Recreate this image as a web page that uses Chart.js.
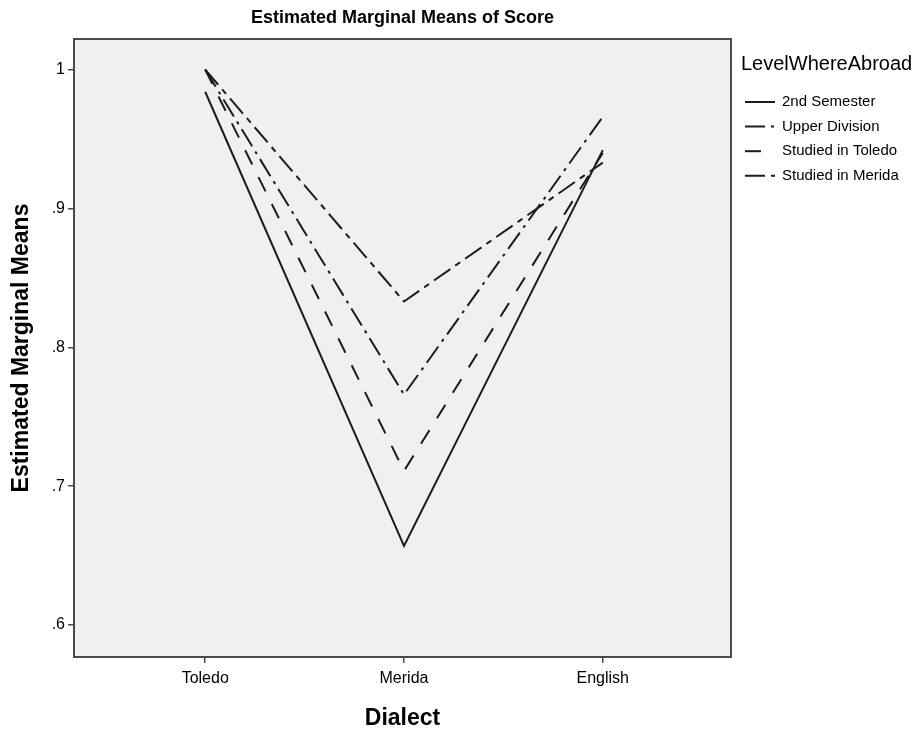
<!DOCTYPE html>
<html>
<head>
<meta charset="utf-8">
<title>Estimated Marginal Means of Score</title>
<script src="https://cdn.jsdelivr.net/npm/chart.js@4.4.1/dist/chart.umd.min.js"></script>
<style>
  html, body { margin: 0; padding: 0; background: #fff; }
  #wrap { width: 917px; height: 732px; }
</style>
</head>
<body>
<div id="wrap"><canvas id="emm-chart" width="917" height="732"></canvas></div>
<script>
const DIALECTS = ['Toledo', 'Merida', 'English'];
const Y_TICKS = [0.6, 0.7, 0.8, 0.9, 1.0];

const SECOND_SEMESTER = [0.984, 0.657, 0.942];
const UPPER_DIVISION = [1.0, 0.766, 0.966];
const STUDIED_TOLEDO = [1.0, 0.711, 0.940];
const STUDIED_MERIDA = [1.0, 0.833, 0.933];

const LINE_COLOR = '#1c1c1c';
const FONT = '"Liberation Sans", Arial, sans-serif';

const toPoints = (values) => values.map((v, i) => ({ x: i, y: v }));

const makeSeries = (label, values, dash) => ({
  label,
  data: toPoints(values),
  borderColor: LINE_COLOR,
  borderWidth: 2,
  borderDash: dash,
  pointRadius: 0,
  tension: 0,
  fill: false
});

// plot box background + frame, title and the legend on the right
const frameAndLegend = {
  id: 'frameAndLegend',
  beforeDatasetsDraw(chart) {
    const { ctx, chartArea: a } = chart;
    ctx.save();
    ctx.fillStyle = '#f0f0f0';
    ctx.fillRect(a.left, a.top, a.right - a.left, a.bottom - a.top);
    ctx.restore();
  },
  afterDraw(chart) {
    const { ctx, chartArea: a } = chart;
    ctx.save();
    ctx.strokeStyle = '#4a4a4a';
    ctx.lineWidth = 2;
    ctx.strokeRect(a.left, a.top, a.right - a.left, a.bottom - a.top);

    ctx.fillStyle = '#000';
    ctx.font = 'bold 18px ' + FONT;
    ctx.textAlign = 'center';
    ctx.textBaseline = 'middle';
    ctx.fillText('Estimated Marginal Means of Score', (a.left + a.right) / 2, 18);

    ctx.textAlign = 'left';
    ctx.font = '20px ' + FONT;
    ctx.fillText('LevelWhereAbroad', 741, 64);

    ctx.font = '15px ' + FONT;
    chart.data.datasets.forEach((ds, i) => {
      const y = 102 + i * 24.6;
      ctx.strokeStyle = LINE_COLOR;
      ctx.lineWidth = 2;
      ctx.setLineDash(ds.borderDash);
      ctx.beginPath();
      ctx.moveTo(745, y);
      ctx.lineTo(775, y);
      ctx.stroke();
      ctx.setLineDash([]);
      ctx.fillText(ds.label, 782, y);
    });
    ctx.restore();
  }
};

window.addEventListener('DOMContentLoaded', () => {
  new Chart(document.getElementById('emm-chart'), {
    type: 'line',
    data: {
      datasets: [
        makeSeries('2nd Semester', SECOND_SEMESTER, []),
        makeSeries('Upper Division', UPPER_DIVISION, [20, 6, 3, 6]),
        makeSeries('Studied in Toledo', STUDIED_TOLEDO, [16, 14]),
        makeSeries('Studied in Merida', STUDIED_MERIDA, [20, 6, 6, 6])
      ]
    },
    options: {
      responsive: false,
      animation: false,
      layout: {
        padding: { top: 39, right: 186, bottom: 0, left: 0 }
      },
      scales: {
        x: {
          type: 'linear',
          min: -0.66,
          max: 2.645,
          afterFit: (scale) => { scale.height = 75; },
          afterBuildTicks: (scale) => {
            scale.ticks = DIALECTS.map((d, i) => ({ value: i }));
          },
          grid: {
            drawOnChartArea: false,
            drawTicks: true,
            tickLength: 6,
            color: '#4a4a4a',
            lineWidth: 1.5
          },
          border: { display: true, color: '#4a4a4a', width: 2 },
          ticks: {
            autoSkip: false,
            maxRotation: 0,
            padding: 6,
            color: '#000',
            font: { family: FONT, size: 16 },
            callback: (v) => DIALECTS[v] ?? ''
          },
          title: {
            display: true,
            text: 'Dialect',
            color: '#000',
            font: { family: FONT, size: 23, weight: 'bold' },
            padding: { top: 0, bottom: 0 }
          }
        },
        y: {
          min: 0.577,
          max: 1.022,
          afterFit: (scale) => { scale.width = 74; },
          afterBuildTicks: (scale) => {
            scale.ticks = Y_TICKS.map((v) => ({ value: v }));
          },
          grid: {
            drawOnChartArea: false,
            drawTicks: true,
            tickLength: 6,
            color: '#4a4a4a',
            lineWidth: 1.5
          },
          border: { display: true, color: '#4a4a4a', width: 2 },
          ticks: {
            padding: 3,
            color: '#000',
            font: { family: FONT, size: 16 },
            callback: (v) => v >= 1 ? '1' : String(Math.round(v * 10) / 10).replace(/^0/, '')
          },
          title: {
            display: true,
            text: 'Estimated Marginal Means',
            color: '#000',
            font: { family: FONT, size: 23, weight: 'bold' },
            padding: { top: 8, bottom: 0 }
          }
        }
      },
      plugins: {
        legend: { display: false },
        tooltip: { enabled: false }
      }
    },
    plugins: [frameAndLegend]
  });
});
</script>
</body>
</html>
